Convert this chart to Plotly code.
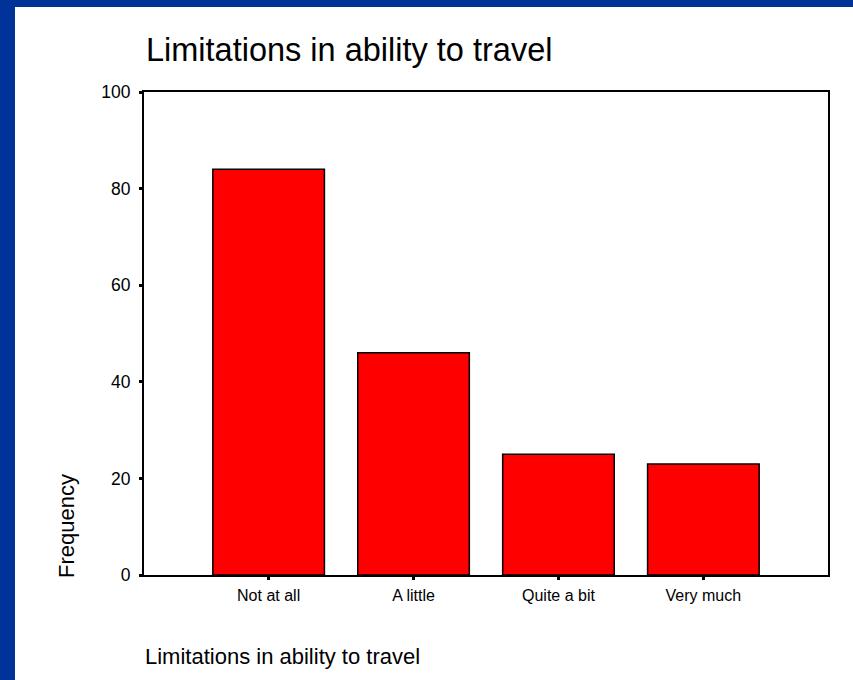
import plotly.graph_objects as go

categories = ["Not at all", "A little", "Quite a bit", "Very much"]
frequency = [84, 46, 25, 23]
y_ticks = [0, 20, 40, 60, 80, 100]

FONT = "Liberation Sans, Arial, sans-serif"
W, H = 853, 680
L, R, T, B = 144, 25, 92, 105
pw, ph = W - L - R, H - T - B

fig = go.Figure(go.Bar(
    x=categories,
    y=frequency,
    width=0.77,
    marker=dict(color="#ff0000", line=dict(color="black", width=1.5)),
    hoverinfo="skip",
))

fig.update_layout(
    width=W, height=H,
    margin=dict(l=L, r=R, t=T, b=B),
    paper_bgcolor="white",
    plot_bgcolor="white",
    showlegend=False,
    font=dict(family=FONT, color="black"),
    title=dict(
        text="Limitations in ability to travel",
        x=146 / W, xanchor="left", xref="container",
        y=1 - 50 / H, yanchor="middle",
        font=dict(size=32.5, color="black", family=FONT),
    ),
)

fig.update_xaxes(
    range=[-0.86, 3.86],
    showline=True, linecolor="black", linewidth=2, mirror=True,
    ticks="outside", ticklen=3, tickwidth=3, tickcolor="black",
    tickfont=dict(size=16), ticklabelstandoff=2,
    showgrid=False, zeroline=False,
)
fig.update_yaxes(
    range=[0, 100], tickvals=y_ticks,
    showline=True, linecolor="black", linewidth=2, mirror=True,
    ticks="outside", ticklen=3, tickwidth=3, tickcolor="black",
    tickfont=dict(size=17.5), ticklabelstandoff=5,
    showgrid=False, zeroline=False,
)

# axis titles placed where the original has them
fig.add_annotation(
    text="Frequency", textangle=-90,
    xref="paper", yref="paper",
    x=(66 - L) / pw, y=(H - B - 526) / ph,
    xanchor="center", yanchor="middle",
    showarrow=False, font=dict(size=22),
)
fig.add_annotation(
    text="Limitations in ability to travel",
    xref="paper", yref="paper",
    x=(143 - L) / pw, y=-(656 - (H - B)) / ph,
    xanchor="left", yanchor="middle",
    showarrow=False, font=dict(size=22),
)

# dark blue slide frame on left and top
blue = "#003399"
fig.add_shape(type="rect", xref="paper", yref="paper",
              x0=-L / pw, x1=(15 - L) / pw, y0=-B / ph, y1=1 + T / ph,
              fillcolor=blue, line_width=0)
fig.add_shape(type="rect", xref="paper", yref="paper",
              x0=-L / pw, x1=1 + R / pw, y0=1 + (T - 7) / ph, y1=1 + T / ph,
              fillcolor=blue, line_width=0)

fig.write_html("out.html", config={"displayModeBar": False},
               post_script="document.body.style.margin='0';")
